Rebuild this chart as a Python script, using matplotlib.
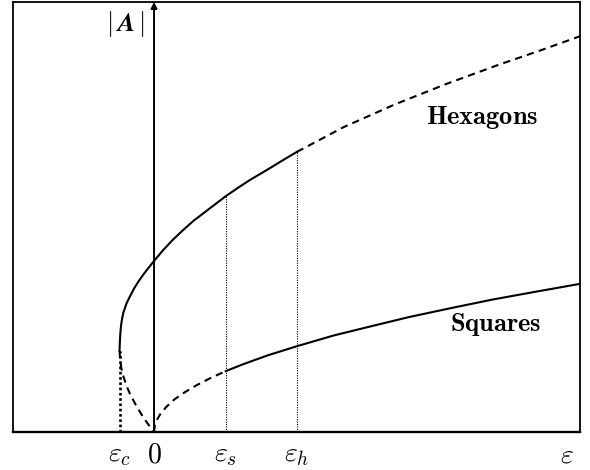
import matplotlib.pyplot as plt
import numpy as np

plt.rcParams['mathtext.fontset'] = 'cm'

# critical values of the control parameter
eps_c = -1.0
eps_s = 2.08
eps_h = 4.14

# hexagons, stable part (eps_c .. eps_h)
hex_eps = [-1.00, -0.995, -0.985, -0.97, -0.94, -0.89, -0.80, -0.70, -0.58, -0.46,
           -0.33, -0.21, -0.10, 0.00, 0.27, 0.55, 0.84, 1.15, 1.48, 1.78,
           2.08, 2.43, 2.78, 3.15, 3.51, 3.83, 4.14]
hex_amp = [2.05, 2.20, 2.38, 2.58, 2.80, 3.02, 3.25, 3.43, 3.63, 3.80,
           3.96, 4.10, 4.22, 4.33, 4.61, 4.87, 5.11, 5.35, 5.57, 5.77,
           5.97, 6.18, 6.38, 6.57, 6.76, 6.93, 7.09]
# hexagons, unstable above eps_h
hex_hi_eps = [4.14, 5.50, 7.00, 8.50, 10.00, 11.20, 12.35]
hex_hi_amp = [7.09, 7.72, 8.30, 8.82, 9.30, 9.66, 10.02]
# hexagons, unstable lower branch
hex_lo_eps = [-1.00, -0.985, -0.95, -0.90, -0.80, -0.68, -0.52, -0.32, -0.15, 0.00]
hex_lo_amp = [2.05, 1.85, 1.62, 1.44, 1.17, 0.93, 0.67, 0.38, 0.17, 0.00]

# squares, unstable below eps_s
sq_lo_eps = [0.00, 0.02, 0.08, 0.18, 0.35, 0.60, 0.90, 1.25, 1.65, 2.08]
sq_lo_amp = [0.00, 0.15, 0.30, 0.45, 0.63, 0.83, 1.01, 1.19, 1.37, 1.54]
# squares, stable above eps_s
sq_eps = [2.08, 2.60, 3.30, 4.14, 5.20, 6.36, 7.40, 8.58, 9.80, 11.00, 12.35]
sq_amp = [1.54, 1.72, 1.94, 2.17, 2.44, 2.69, 2.91, 3.13, 3.35, 3.54, 3.75]

tick_pos = [eps_c, 0.0, eps_s, eps_h, 11.97]
tick_lab = [r'$\varepsilon_c$', r'$0$', r'$\varepsilon_s$', r'$\varepsilon_h$', r'$\varepsilon$']

fig = plt.figure(figsize=(5.9, 4.7), dpi=100)
ax = fig.add_axes([0.022, 0.081, 0.961, 0.915])
ax.set_xlim(-4.09, 12.35)
ax.set_ylim(0, 10.89)

dash = (0, (3.5, 2.5))
lw = 1.5
ax.plot(hex_eps, hex_amp, color='k', lw=lw)
ax.plot(hex_hi_eps, hex_hi_amp, color='k', lw=lw, ls=dash)
ax.plot(hex_lo_eps, hex_lo_amp, color='k', lw=lw, ls=dash)
ax.plot(sq_lo_eps, sq_lo_amp, color='k', lw=lw, ls=dash)
ax.plot(sq_eps, sq_amp, color='k', lw=lw)

# guide lines down to the axis
ax.plot([eps_c, eps_c], [0, hex_amp[0]], color='k', lw=1.9, ls=(0, (1, 1)))
ax.plot([eps_s, eps_s], [0, hex_amp[20]], color='k', lw=0.8, ls=(0, (1, 1.2)))
ax.plot([eps_h, eps_h], [0, hex_amp[-1]], color='k', lw=0.8, ls=(0, (1, 1.2)))

# vertical |A| axis with arrow
ax.annotate('', xy=(0, 10.89), xytext=(0, 0),
            arrowprops=dict(arrowstyle='-|>', color='k', lw=1.4,
                            mutation_scale=9, shrinkA=0, shrinkB=0),
            annotation_clip=False)
ax.text(-0.84, 10.33, r'$|\,\boldsymbol{A}\,|$', fontsize=19, ha='center', va='center')

ax.text(9.51, 7.97, r'$\mathbf{Hexagons}$', fontsize=19, ha='center', va='center')
ax.text(9.91, 2.71, r'$\mathbf{Squares}$', fontsize=19, ha='center', va='center')

ax.set_xticks(tick_pos)
ax.set_xticklabels(tick_lab, fontsize=20)
ax.tick_params(axis='x', length=0, pad=6)
ax.set_yticks([])
for s in ax.spines.values():
    s.set_linewidth(1.3)
ax.spines['bottom'].set_linewidth(1.7)

fig.savefig('out.png', dpi=100)
